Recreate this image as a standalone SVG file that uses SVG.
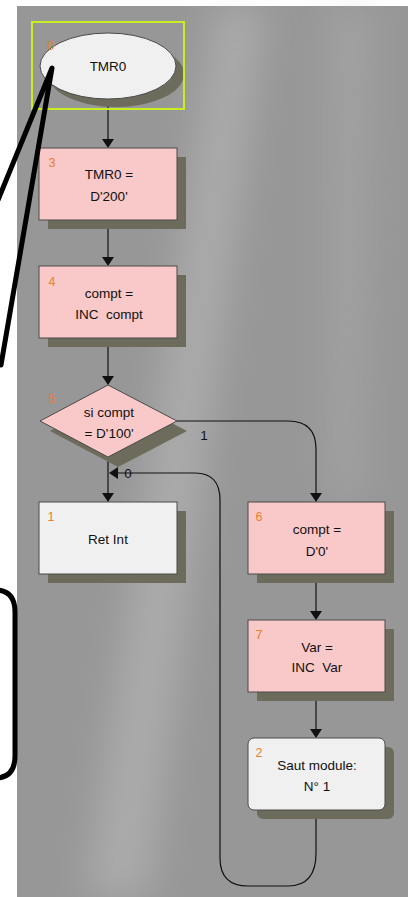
<svg xmlns="http://www.w3.org/2000/svg" width="414" height="897" viewBox="0 0 414 897">
  <defs>
    <style>
      .lbl { font-family: "Liberation Sans", Arial, sans-serif; font-size: 13.5px; fill: #111; text-anchor: middle; white-space: pre; }
      .num { font-family: "Liberation Sans", Arial, sans-serif; font-size: 12.5px; fill: #e8802c; text-anchor: middle; }
      .edge { fill: none; stroke: #111; stroke-width: 1.2; }
      .head { fill: #111; }
      .shadow { fill: #6c6b5c; }
      .pink { fill: #f9c8c8; stroke: #4a4a4a; stroke-width: 1; }
      .grey { fill: #f0f0f0; stroke: #4a4a4a; stroke-width: 1; }
      .callout { fill: none; stroke: #000; stroke-width: 5; stroke-linecap: round; stroke-linejoin: round; }
    </style>
    <filter id="soft" x="-50%" y="-50%" width="200%" height="200%">
      <feGaussianBlur stdDeviation="18"/>
    </filter>
    <path id="arrowDown" d="M0 0 L-6 -9 L6 -9 Z"/>
  </defs>

  <!-- page -->
  <rect x="0" y="0" width="414" height="897" fill="#ffffff"/>

  <!-- canvas with soft light streaks -->
  <g id="canvas">
    <rect x="17" y="6" width="391" height="891" fill="#979797"/>
    <g filter="url(#soft)" opacity="0.3">
      <path d="M215 6 L265 6 L150 897 L85 897 Z" fill="#d8d8d8"/>
      <path d="M330 6 L370 6 L360 500 L330 500 Z" fill="#c0c0c0"/>
    </g>
  </g>

  <!-- connectors -->
  <g id="connectors">
    <path class="edge" d="M108 100 V139"/>
    <use href="#arrowDown" class="head" x="108" y="148"/>
    <path class="edge" d="M108 220 V257"/>
    <use href="#arrowDown" class="head" x="108" y="266"/>
    <path class="edge" d="M108 338 V376"/>
    <use href="#arrowDown" class="head" x="108" y="385"/>
    <path class="edge" d="M108 457 V493"/>
    <use href="#arrowDown" class="head" x="108" y="502"/>
    <!-- branch 1 -->
    <path class="edge" d="M177 421 H288 Q316 421 316 449 V493"/>
    <use href="#arrowDown" class="head" x="316" y="502"/>
    <text class="lbl" x="204" y="440">1</text>
    <path class="edge" d="M316 574 V611"/>
    <use href="#arrowDown" class="head" x="316" y="620"/>
    <path class="edge" d="M316 692 V729"/>
    <use href="#arrowDown" class="head" x="316" y="738"/>
    <!-- loop back -->
    <path class="edge" d="M316 810 V853 Q316 886 288 886 H248 Q220 886 220 858 V500 Q220 473 195 473 H117"/>
    <path class="head" d="M109 473 L118 467 L118 479 Z"/>
    <text class="lbl" x="128" y="478">0</text>
  </g>

  <!-- node 0: start -->
  <g id="node0">
    <ellipse class="shadow" cx="116" cy="74" rx="68" ry="33"/>
    <ellipse class="grey" cx="108" cy="66" rx="68" ry="33"/>
    <text class="num" x="51" y="50">0</text>
    <text class="lbl" x="108" y="71">TMR0</text>
    <rect x="32" y="22" width="152" height="87" fill="none" stroke="#c6ee22" stroke-width="2"/>
  </g>

  <!-- node 3 -->
  <g id="node3">
    <rect class="shadow" x="48" y="157" width="138" height="72"/>
    <rect class="pink" x="39" y="148" width="138" height="72"/>
    <text class="num" x="52" y="167">3</text>
    <text class="lbl" x="109" y="179">TMR0 =</text>
    <text class="lbl" x="109" y="201">D'200'</text>
  </g>

  <!-- node 4 -->
  <g id="node4">
    <rect class="shadow" x="48" y="275" width="138" height="72"/>
    <rect class="pink" x="39" y="266" width="138" height="72"/>
    <text class="num" x="52" y="286">4</text>
    <text class="lbl" x="109" y="298">compt =</text>
    <text class="lbl" x="109" y="319">INC  compt</text>
  </g>

  <!-- node 5: decision -->
  <g id="node5">
    <path class="shadow" d="M118 395 L187 431 L118 467 L50 431 Z"/>
    <path class="pink" d="M108 385 L177 421 L108 457 L40 421 Z"/>
    <text class="num" x="52" y="403">5</text>
    <text class="lbl" x="109" y="417">si compt</text>
    <text class="lbl" x="109" y="438">= D'100'</text>
  </g>

  <!-- node 1 -->
  <g id="node1">
    <rect class="shadow" x="48" y="511" width="138" height="72"/>
    <rect class="grey" x="39" y="502" width="138" height="72"/>
    <text class="num" x="51" y="521">1</text>
    <text class="lbl" x="108" y="544">Ret Int</text>
  </g>

  <!-- node 6 -->
  <g id="node6">
    <rect class="shadow" x="257" y="511" width="137" height="72"/>
    <rect class="pink" x="248" y="502" width="137" height="72"/>
    <text class="num" x="259" y="521">6</text>
    <text class="lbl" x="317" y="534">compt =</text>
    <text class="lbl" x="317" y="556">D'0'</text>
  </g>

  <!-- node 7 -->
  <g id="node7">
    <rect class="shadow" x="257" y="629" width="137" height="72"/>
    <rect class="pink" x="248" y="620" width="137" height="72"/>
    <text class="num" x="259" y="639">7</text>
    <text class="lbl" x="317" y="652">Var =</text>
    <text class="lbl" x="317" y="672">INC  Var</text>
  </g>

  <!-- node 2 -->
  <g id="node2">
    <rect class="shadow" x="257" y="747" width="137" height="72" rx="6"/>
    <rect class="grey" x="248" y="738" width="137" height="72" rx="6"/>
    <text class="num" x="259" y="757">2</text>
    <text class="lbl" x="317" y="770">Saut module:</text>
    <text class="lbl" x="317" y="791">N° 1</text>
  </g>

  <!-- callout outline -->
  <g id="callout">
    <path class="callout" d="M-2 200 L52 68 L1 365"/>
    <path class="callout" d="M-10 590 H-5 Q15 590 15 612 V756 Q15 778 -5 778 H-10"/>
  </g>
</svg>
